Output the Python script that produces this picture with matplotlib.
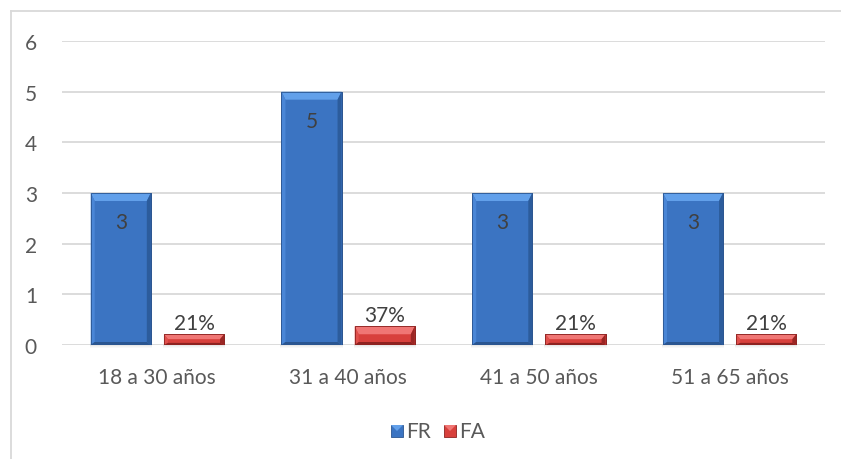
import matplotlib
matplotlib.use("Agg")
import matplotlib.pyplot as plt
from matplotlib.patches import Polygon, Rectangle
from matplotlib.lines import Line2D
import numpy as np

categories = ["18 a 30 años", "31 a 40 años", "41 a 50 años", "51 a 65 años"]
fr_values = [3, 5, 3, 3]
fa_values = [0.21, 0.37, 0.21, 0.21]
fa_labels = ["21%", "37%", "21%", "21%"]
y_ticks = [0, 1, 2, 3, 4, 5, 6]

W, H = 841, 460
plt.rcParams["font.family"] = ["Lato", "DejaVu Sans"]
text_color = "#595959"
grid_color = "#D9D9D9"
fs = 15

fig = plt.figure(figsize=(W / 100, H / 100), dpi=100)
ax = fig.add_axes([62 / W, 1 - 346 / H, (825 - 62) / W, (346 - 42) / H])
ax.set_xlim(-0.5, len(categories) - 0.5)
ax.set_ylim(0, 6)

# chart frame (top and left edges visible)
fig.add_artist(Line2D([11 / W, 1.0], [1 - 12 / H, 1 - 12 / H], transform=fig.transFigure,
                      color=grid_color, lw=1.3))
fig.add_artist(Line2D([11 / W, 11 / W], [1 - 12 / H, 0.0], transform=fig.transFigure,
                      color=grid_color, lw=1.3))

for t in y_ticks:
    ax.axhline(t, color=grid_color, lw=1.3, zorder=0)

for s in ax.spines.values():
    s.set_visible(False)
ax.set_yticks(y_ticks)
ax.set_yticklabels([str(t) for t in y_ticks])
ax.set_xticks(range(len(categories)))
ax.set_xticklabels(categories)
ax.tick_params(axis="both", length=0, labelsize=fs, colors=text_color)
ax.tick_params(axis="y", pad=18)
ax.tick_params(axis="x", pad=16)

# pixel -> data conversion for bevel sizes
px_x = 1.0 / ((825 - 62) / len(categories))
px_y = 6.0 / (346 - 42)


def bevel_bar(x0, width, height, body, light, side_light, dark, bottom_dark, edge):
    x1 = x0 + width
    bx = 4 * px_x
    by = min(8 * px_y, height * 0.45)
    bb = min(3 * px_y, height * 0.2)
    # soft shadow under the bar
    for k, a in enumerate([0.18, 0.10, 0.05]):
        ax.add_patch(Rectangle((x0 - 1 * px_x, -(k + 1) * px_y), width + 2 * px_x, px_y,
                               facecolor="#808080", alpha=a, lw=0, zorder=2, clip_on=False))
    ax.add_patch(Rectangle((x0, 0), width, height, facecolor=body, edgecolor=edge, lw=0.6, zorder=3))
    # top bevel
    ax.add_patch(Polygon([(x0, height), (x1, height), (x1 - bx, height - by), (x0 + bx, height - by)],
                         closed=True, facecolor=light, lw=0, zorder=4))
    # left bevel
    ax.add_patch(Polygon([(x0, 0), (x0, height), (x0 + bx, height - by), (x0 + bx, bb)],
                         closed=True, facecolor=side_light, lw=0, zorder=4))
    # right bevel
    ax.add_patch(Polygon([(x1, 0), (x1, height), (x1 - bx, height - by), (x1 - bx, bb)],
                         closed=True, facecolor=dark, lw=0, zorder=4))
    # bottom bevel
    ax.add_patch(Polygon([(x0, 0), (x1, 0), (x1 - bx, bb), (x0 + bx, bb)],
                         closed=True, facecolor=bottom_dark, lw=0, zorder=4))
    ax.add_patch(Rectangle((x0, 0), width, height, facecolor="none", edgecolor=edge, lw=0.6, zorder=5))


bar_w = 0.315
offset = 0.192
blue = dict(body="#3B74C2", light="#62A0EA", side_light="#4A86D6", dark="#2C5C9C",
            bottom_dark="#2A5590", edge="#2B5590")
red = dict(body="#D8403C", light="#F07674", side_light="#E0504C", dark="#9A2624",
           bottom_dark="#8E2220", edge="#8C2321")

for i, (fr, fa, lab) in enumerate(zip(fr_values, fa_values, fa_labels)):
    xb = i - offset - bar_w / 2
    xr = i + offset - bar_w / 2
    bevel_bar(xb, bar_w, fr, **blue)
    bevel_bar(xr, bar_w, fa, **red)
    ax.annotate(str(fr), (i - offset, fr), xytext=(0, -21), textcoords="offset points",
                ha="center", va="center", fontsize=fs, color="#404040", zorder=6)
    ax.annotate(lab, (i + offset, fa), xytext=(0, 1.0), textcoords="offset points",
                ha="center", va="bottom", fontsize=fs, color="#404040", zorder=6)

# legend with small beveled squares
def legend_square(xc, yc, body, light, dark):
    s = 12
    x0, y0 = (xc - s / 2) / W, 1 - (yc + s / 2) / H
    fig.add_artist(Rectangle((x0, y0), s / W, s / H, transform=fig.transFigure,
                             facecolor=body, edgecolor=dark, lw=0.6))
    fig.add_artist(Polygon([(x0, y0 + s / H), (x0 + s / W, y0 + s / H),
                            (x0 + (s / 2) / W, y0 + (s / 2) / H)],
                           closed=True, transform=fig.transFigure, facecolor=light, lw=0))


legend_square(397, 432, blue["body"], blue["light"], blue["edge"])
fig.text(406 / W, 1 - 432 / H, "FR", ha="left", va="center", fontsize=fs, color=text_color)
legend_square(450, 432, red["body"], red["light"], red["edge"])
fig.text(459 / W, 1 - 432 / H, "FA", ha="left", va="center", fontsize=fs, color=text_color)

fig.savefig("out.png", dpi=100, facecolor="white")
